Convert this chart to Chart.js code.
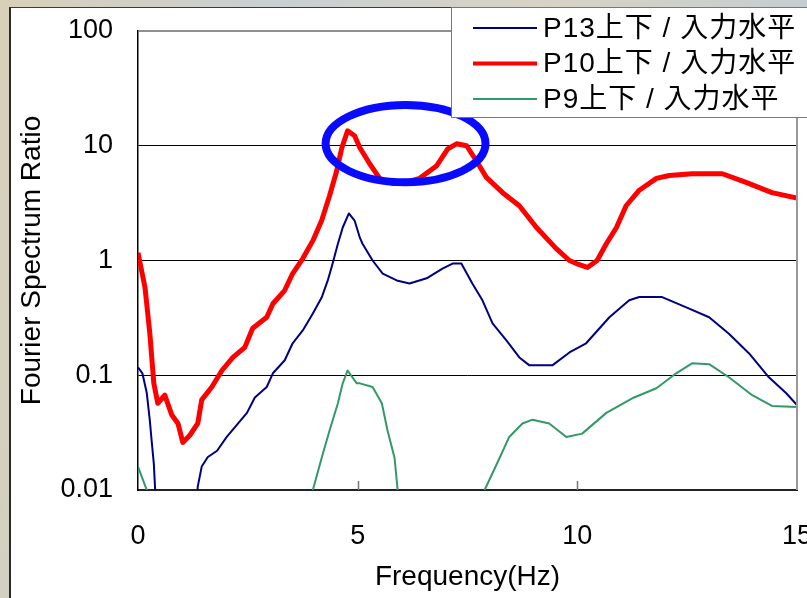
<!DOCTYPE html>
<html>
<head>
<meta charset="utf-8">
<script src="https://cdn.jsdelivr.net/npm/chart.js@4.4.1/dist/chart.umd.min.js"></script>
<style>
  html, body { margin: 0; padding: 0; }
  body {
    width: 807px; height: 598px; overflow: hidden; position: relative;
    background: linear-gradient(100deg, #d9d0b8 0%, #c9cfd2 30%, #d7d3c4 60%, #bfcbd6 100%);
  }
  #panel {
    position: absolute; left: 9px; top: 7px; width: 810px; height: 600px;
    background: #fff; border-left: 2px solid #2a2a2a; border-top: 1px solid #3a3a3a;
  }
  #chart { position: absolute; left: 0; top: 0; }
</style>
</head>
<body>
<div id="panel"></div>
<canvas id="chart" width="807" height="598"></canvas>
<script>
// frequency (Hz) and spectrum ratio
const freqP13 = [0, 0.1, 0.2, 0.27, 0.31, 0.36, 0.42, 1.33, 1.36, 1.45, 1.59, 1.8, 2.02, 2.25, 2.48, 2.66, 2.93, 3.07, 3.34, 3.52, 3.75, 3.98, 4.18, 4.32, 4.43, 4.55, 4.66, 4.8, 4.93, 5.05, 5.11, 5.34, 5.57, 5.89, 6.18, 6.57, 6.93, 7.16, 7.36, 7.61, 7.84, 8.07, 8.39, 8.68, 8.91, 9.43, 9.82, 10.2, 10.73, 11.18, 11.41, 11.93, 12.48, 13.0, 13.45, 13.91, 14.36, 14.75, 15.0];
const ratioP13 = [0.117, 0.104, 0.07, 0.04, 0.027, 0.017, 0.006, 0.006, 0.0107, 0.016, 0.0194, 0.022, 0.029, 0.037, 0.047, 0.064, 0.079, 0.104, 0.135, 0.19, 0.246, 0.345, 0.475, 0.67, 0.94, 1.4, 1.94, 2.57, 2.23, 1.58, 1.4, 1.0, 0.77, 0.67, 0.63, 0.70, 0.85, 0.94, 0.94, 0.63, 0.45, 0.283, 0.20, 0.143, 0.122, 0.122, 0.158, 0.19, 0.32, 0.45, 0.48, 0.48, 0.39, 0.32, 0.23, 0.155, 0.096, 0.07, 0.055];

const freqP10 = [0, 0.16, 0.27, 0.36, 0.45, 0.61, 0.77, 0.91, 1.02, 1.18, 1.36, 1.45, 1.68, 1.91, 2.16, 2.43, 2.61, 2.93, 3.07, 3.34, 3.52, 3.75, 3.98, 4.18, 4.36, 4.52, 4.64, 4.77, 4.93, 5.05, 5.27, 5.5, 5.8, 6.0, 6.41, 6.8, 7.05, 7.25, 7.48, 7.7, 7.93, 8.3, 8.68, 9.07, 9.52, 9.82, 9.98, 10.23, 10.45, 10.66, 10.89, 11.11, 11.41, 11.8, 12.09, 12.61, 13.3, 13.84, 14.43, 15.0];
const ratioP10 = [1.17, 0.58, 0.23, 0.085, 0.057, 0.067, 0.045, 0.038, 0.026, 0.030, 0.038, 0.061, 0.079, 0.11, 0.143, 0.175, 0.257, 0.32, 0.42, 0.55, 0.77, 1.04, 1.49, 2.23, 3.67, 6.0, 9.6, 13.5, 12.2, 9.6, 7.0, 5.2, 4.7, 4.7, 5.2, 6.7, 9.4, 10.4, 10.0, 7.4, 5.3, 3.9, 3.0, 1.94, 1.27, 1.0, 0.94, 0.87, 1.0, 1.4, 1.94, 3.0, 4.1, 5.2, 5.5, 5.7, 5.7, 4.8, 3.9, 3.5];

const freqP9 = [0, 0.2, 0.26, 3.92, 3.98, 4.18, 4.36, 4.55, 4.66, 4.77, 4.98, 5.05, 5.34, 5.55, 5.68, 5.84, 5.91, 5.95, 7.8, 7.89, 8.23, 8.45, 8.75, 8.98, 9.36, 9.75, 10.11, 10.66, 11.25, 11.8, 12.25, 12.61, 13.0, 13.45, 13.98, 14.43, 15.0];
const ratioP9 = [0.016, 0.01, 0.006, 0.006, 0.01, 0.019, 0.033, 0.057, 0.085, 0.11, 0.085, 0.085, 0.079, 0.057, 0.033, 0.019, 0.01, 0.006, 0.006, 0.01, 0.019, 0.029, 0.038, 0.041, 0.038, 0.029, 0.031, 0.047, 0.063, 0.077, 0.104, 0.127, 0.125, 0.096, 0.067, 0.054, 0.053];

const seriesLabels = ["P13上下 / 入力水平", "P10上下 / 入力水平", "P9上下 / 入力水平"];
const yTicks = [0.01, 0.1, 1, 10, 100];
const xTicks = [0, 5, 10, 15];

// highlighted region around the two peaks (data units)
const highlightX = [4.27, 7.91];
const highlightY = [4.8, 22.7];

const FONT = '"Liberation Sans", Arial, "Noto Sans CJK JP", sans-serif';

function pts(xs, ys) {
    return xs.map((x, i) => ({ x: x, y: ys[i] }));
}

const highlightPlugin = {
    id: "highlight",
    afterDatasetsDraw(chart) {
        const { ctx, scales } = chart;
        const x1 = scales.x.getPixelForValue(highlightX[0]);
        const x2 = scales.x.getPixelForValue(highlightX[1]);
        const y1 = scales.y.getPixelForValue(highlightY[1]);
        const y2 = scales.y.getPixelForValue(highlightY[0]);
        ctx.save();
        ctx.beginPath();
        ctx.ellipse((x1 + x2) / 2, (y1 + y2) / 2, (x2 - x1) / 2, (y2 - y1) / 2, 0, 0, Math.PI * 2);
        ctx.lineWidth = 8;
        ctx.strokeStyle = "#0a0aff";
        ctx.stroke();
        ctx.restore();
    }
};

const framePlugin = {
    id: "frame",
    afterDraw(chart) {
        const { ctx, chartArea: a, scales } = chart;
        ctx.save();
        // top and right edges of the plot area
        ctx.strokeStyle = "#6a6a6a";
        ctx.lineWidth = 1.5;
        ctx.beginPath();
        ctx.moveTo(a.left, a.top);
        ctx.lineTo(a.right, a.top);
        ctx.stroke();
        ctx.strokeStyle = "#999";
        ctx.lineWidth = 2;
        ctx.beginPath();
        ctx.moveTo(a.right, a.top);
        ctx.lineTo(a.right, a.bottom);
        ctx.stroke();
        // small inward tick marks on the x axis
        ctx.strokeStyle = "#777";
        ctx.lineWidth = 1.5;
        xTicks.slice(1, -1).forEach(v => {
            const px = Math.round(scales.x.getPixelForValue(v)) + 0.5;
            ctx.beginPath();
            ctx.moveTo(px, a.bottom);
            ctx.lineTo(px, a.bottom - 9);
            ctx.stroke();
        });

        // legend box
        const bx = 451, by = 7, bw = 400, bh = 110;
        ctx.fillStyle = "#fff";
        ctx.fillRect(bx, by, bw, bh);
        ctx.strokeStyle = "#777";
        ctx.lineWidth = 1;
        ctx.strokeRect(bx + 0.5, by + 0.5, bw, bh);
        ctx.font = "28px " + FONT;
        ctx.textBaseline = "middle";
        ctx.fillStyle = "#000";
        if ("letterSpacing" in ctx) ctx.letterSpacing = "1px";
        chart.data.datasets.forEach((ds, i) => {
            const ry = 28 + i * 35.5;
            ctx.strokeStyle = ds.borderColor;
            ctx.lineWidth = ds.borderWidth > 3 ? 4 : 2;
            ctx.beginPath();
            ctx.moveTo(473, ry);
            ctx.lineTo(537, ry);
            ctx.stroke();
            ctx.fillText(ds.label, 543, ry + 1);
        });
        ctx.restore();
    }
};

new Chart(document.getElementById("chart"), {
    type: "scatter",
    data: {
        datasets: [
            { label: seriesLabels[0], data: pts(freqP13, ratioP13), borderColor: "#000080", borderWidth: 2 },
            { label: seriesLabels[1], data: pts(freqP10, ratioP10), borderColor: "#ff0000", borderWidth: 5 },
            { label: seriesLabels[2], data: pts(freqP9, ratioP9), borderColor: "#339966", borderWidth: 2 }
        ].map(ds => Object.assign(ds, { showLine: true, pointRadius: 0, tension: 0, borderJoinStyle: "round" }))
    },
    options: {
        responsive: false,
        animation: false,
        devicePixelRatio: 1,
        layout: { padding: { left: 12, top: 31, right: 10, bottom: 0 } },
        plugins: { legend: { display: false }, tooltip: { enabled: false } },
        scales: {
            x: {
                type: "linear",
                min: 0, max: 15,
                afterFit: s => { s.height = 108; s.paddingLeft = 0; s.paddingRight = 0; },
                afterBuildTicks: s => { s.ticks = xTicks.map(v => ({ value: v })); },
                ticks: { color: "#000", padding: 30, font: { family: FONT, size: 27 } },
                grid: { display: false, drawTicks: false },
                border: { display: true, color: "#222", width: 2 },
                title: { display: true, text: "Frequency(Hz)", color: "#000", padding: { top: 0, bottom: 4 }, font: { family: FONT, size: 28 } }
            },
            y: {
                type: "logarithmic",
                min: 0.01, max: 100,
                afterFit: s => { s.width = 126; s.paddingTop = 0; s.paddingBottom = 0; },
                afterBuildTicks: s => { s.ticks = yTicks.map(v => ({ value: v })); },
                ticks: { color: "#000", padding: 25, font: { family: FONT, size: 27 }, callback: v => String(v) },
                grid: {
                    drawTicks: false,
                    lineWidth: 1,
                    color: c => (c.tick && c.tick.value > 0.011 && c.tick.value < 99) ? "#000" : "rgba(0,0,0,0)"
                },
                border: { display: true, color: "#000", width: 1.5 },
                title: { display: true, text: "Fourier Spectrum Ratio", color: "#000", padding: { top: 3 }, font: { family: FONT, size: 28 } }
            }
        }
    },
    plugins: [highlightPlugin, framePlugin]
});
</script>
</body>
</html>
